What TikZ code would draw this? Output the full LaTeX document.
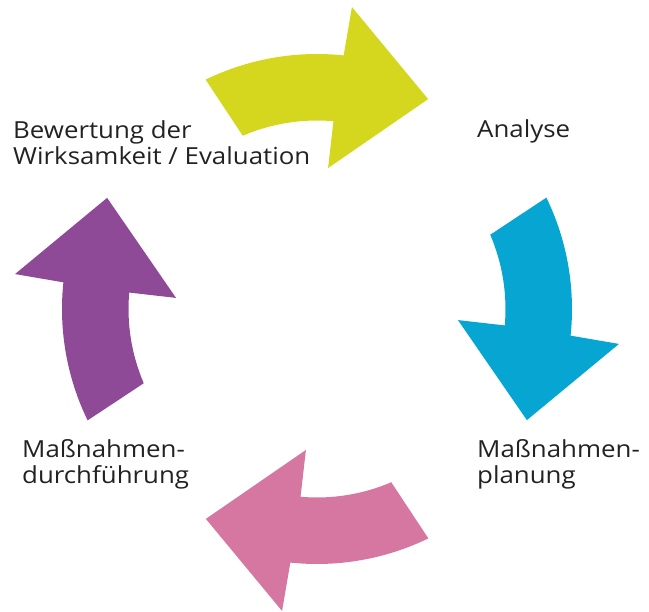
\documentclass[tikz,border=0pt]{standalone}
\usepackage{fontspec}
\setmainfont[FakeStretch=1.1]{Open Sans}
\usepackage{tikz}

\definecolor{lime}{HTML}{D4D71E}
\definecolor{cyanblue}{HTML}{06A5D2}
\definecolor{rosepink}{HTML}{D677A2}
\definecolor{violet}{HTML}{8E4A96}
\definecolor{textgray}{HTML}{222222}

% one curved arrow of the cycle, pointing clockwise at the top
\newcommand{\cyclearrow}{(115.9:255) arc[start angle=115.9, end angle=84, radius=255pt]
	-- (83.4:304) -- (62.1:237.5) -- (85.5:141.4) -- (85:188.5)
	arc[start angle=85, end angle=113.2, radius=188.5pt] -- cycle}

\begin{document}
\begin{tikzpicture}[x=1pt, y=1pt,
			arrowpart/.style={draw=none},
			steplabel/.style={anchor=base west, inner sep=0pt, align=left, text=textgray,
				font=\fontsize{23.5}{26.5}\selectfont},
		]
		\useasboundingbox (-317,-303) rectangle (332,309);
		
			%Arrows
			\fill[arrowpart, lime]			\cyclearrow;
			\fill[arrowpart, cyanblue, rotate=-90]	\cyclearrow;
			\fill[arrowpart, rosepink, rotate=180]	\cyclearrow;
			\fill[arrowpart, violet, rotate=90]	\cyclearrow;
		
			%Labels (base = last line)
			\node[steplabel]	(evaluation)	at (-304,144)	{Bewertung der\\Wirksamkeit / Evaluation};
			\node[steplabel]	(analyse)	at (160,171)	{Analyse};
			\node[steplabel]	(planung)	at (160,-175)	{Maßnahmen-\\planung};
			\node[steplabel]	(durchfuehrung)	at (-295,-175)	{Maßnahmen-\\durchführung};
		
		\end{tikzpicture}
\end{document}
